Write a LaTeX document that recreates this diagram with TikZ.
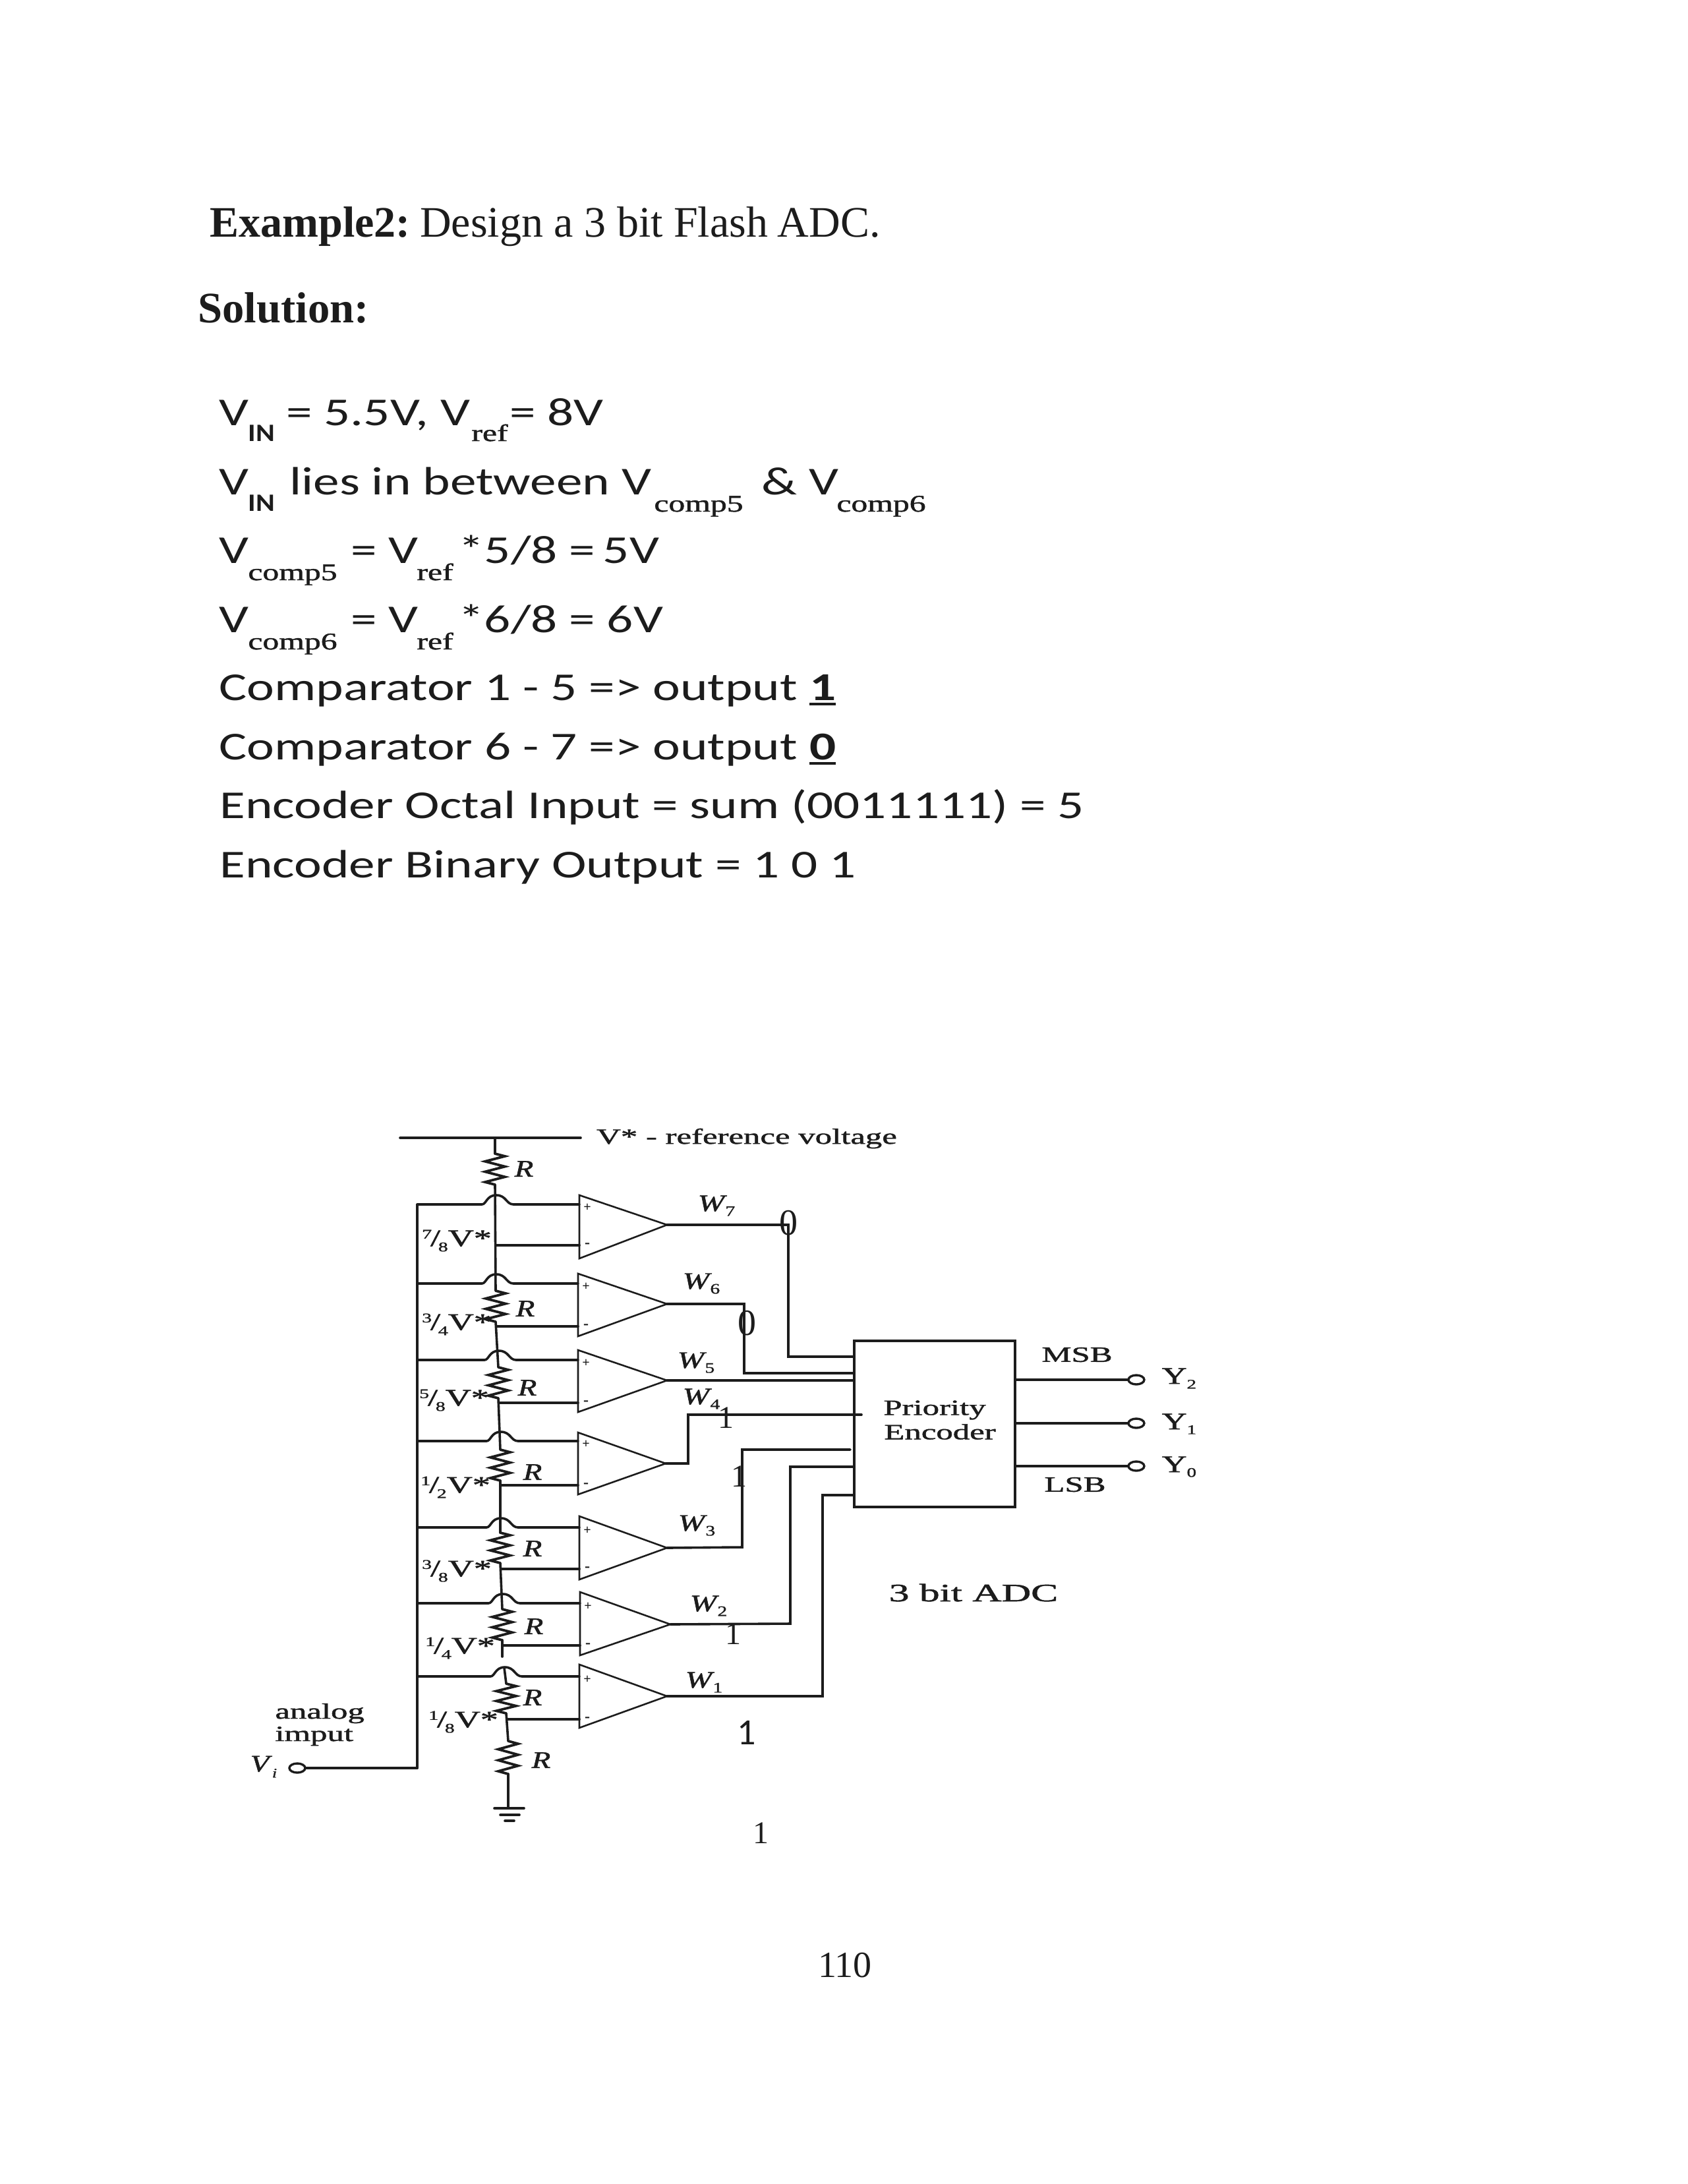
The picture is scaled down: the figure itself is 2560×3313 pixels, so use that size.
\documentclass[tikz,border=0pt]{standalone}
\usepackage{graphicx}
\usepackage{fontspec}
\setmainfont{Liberation Serif}
\newfontfamily\carl{Carlito}
\newfontfamily\heavy[FakeBold=1.2,ItalicFont=Liberation Serif Italic,ItalicFeatures={FakeBold=1.2}]{Liberation Serif}
\usetikzlibrary{calc,shapes.geometric}
\definecolor{ink}{HTML}{1C1C1C}
\newcommand{\sa}[1]{\scalebox{1.32}[1]{\fontsize{30}{36}\selectfont\carl #1}}
\newcommand{\sbsans}[1]{\scalebox{1.15}[1]{\fontsize{19}{22}\selectfont\carl\bfseries #1}}
\newcommand{\sbserif}[1]{\scalebox{1.38}[1]{\fontsize{18}{22}\selectfont\heavy #1}}
\newcommand{\dg}[1]{\scalebox{1.54}[1]{\fontsize{16.5}{19}\selectfont\heavy #1}}
\newcommand{\frc}[2]{\scalebox{1.5}[1]{\fontsize{18}{21}\selectfont\heavy\raisebox{.32em}{\fontsize{10}{11}\selectfont #1}\kern-.04em/\kern-.06em\raisebox{-.22em}{\fontsize{10}{11}\selectfont #2}V*}}
\newcommand{\wl}[1]{\scalebox{1.35}[1]{\fontsize{18}{21}\selectfont\heavy\textit{W}\kern-.05em\raisebox{-.2em}{\fontsize{11}{13}\selectfont #1}}}
\newcommand{\yl}[1]{\scalebox{1.45}[1]{\fontsize{18}{21}\selectfont\heavy Y\raisebox{-.2em}{\fontsize{10}{11}\selectfont #1}}}
\newcommand{\rl}{\scalebox{1.3}[1]{\fontsize{18}{21}\selectfont\heavy\textit{R}}}
\newcommand{\udl}[1]{\rlap{\rule[-.13em]{.507em}{.07em}}\textbf{#1}}
\tikzset{
  wire/.style={draw=ink,line width=1.8pt,line cap=round,line join=miter},
  thin wire/.style={draw=ink,line width=1.3pt,line join=miter},
  txt/.style={anchor=base west,inner sep=0pt,text=ink},
  lab/.style={inner sep=0pt,text=ink},
  term/.style={draw=ink,line width=1.7pt,ellipse,minimum width=12pt,minimum height=7pt,inner sep=0pt},
  enc/.style={draw=ink,line width=1.8pt,rectangle,inner sep=0pt,minimum width=122pt,minimum height=126pt}
}
% \resist{x}{top}{bottom}
\newcommand{\resist}[3]{%
  \pgfmathsetmacro{\sx}{(#3-#2)/12}%
  \draw[wire,line width=1.9pt] (#1,#2) -- ({#1+15},{#2+\sx}) -- ({#1-15},{#2+3*\sx}) -- ({#1+15},{#2+5*\sx}) -- ({#1-15},{#2+7*\sx}) -- ({#1+15},{#2+9*\sx}) -- ({#1-15},{#2+11*\sx}) -- (#1,#3);}
% \cmp{n}{left}{top}{bot}{tipx}{tipy}{plus}{minus}
\newcommand{\cmp}[8]{%
  \coordinate (c#1t) at (#2,#3);
  \coordinate (c#1b) at (#2,#4);
  \coordinate (c#1o) at (#5,#6);
  \coordinate (c#1p) at (#2,#7);
  \coordinate (c#1m) at (#2,#8);
  \draw[thin wire] (c#1t) -- (c#1o) -- (c#1b) -- cycle;
  \node[lab] (pl#1) at ($(c#1p)+(12,5)$) {\fontsize{10}{10}\selectfont\bfseries +};
  \node[lab] (mi#1) at ($(c#1m)+(12,0)$) {\fontsize{12}{12}\selectfont\bfseries -};}
% \hop{n}{ladderx}
\newcommand{\hop}[2]{%
  \coordinate (r#1) at (rail |- c#1p);
  \path let \p1=(c#1p) in coordinate (h#1) at (#2,\y1);
  \draw[wire] (r#1) -- ($(h#1)+(-21,0)$) .. controls ($(h#1)+(-14,0)$) and ($(h#1)+(-14,-14)$) .. ($(h#1)+(1,-14)$) .. controls ($(h#1)+(16,-14)$) and ($(h#1)+(16,0)$) .. ($(h#1)+(27,0)$) -- (c#1p);}
% \tap{n}{ladderx}
\newcommand{\tap}[2]{%
  \path let \p1=(c#1m) in coordinate (t#1) at (#2,\y1);
  \draw[wire] (t#1) -- (c#1m);}
\begin{document}
\begin{tikzpicture}[x=0.5pt,y=-0.5pt]
\useasboundingbox (0,0) rectangle (2560,3313);
\fill[white] (0,0) rectangle (2560,3313);
% --- heading
\node[txt] (ex) at (318,359) {\fontsize{33}{40}\selectfont\textbf{Example2:}\kern-.03em\ Design a 3 bit Flash\kern-.03em\ ADC.};
\node[txt] (sol) at (300,489) {\scalebox{1.01}[1]{\fontsize{33}{40}\selectfont\textbf{Solution:}}};
% --- calculation lines
\node[txt] (a1) at (332,645) {\sa{V}};
\node[txt] (a2) at (376,669) {\sbsans{IN}};
\node[txt] (a3) at (434,645) {\sa{= 5.5V,}};
\node[txt] (a4) at (668,645) {\sa{V}};
\node[txt] (a5) at (715,669) {\sbserif{ref}};
\node[txt] (a6) at (773,645) {\sa{= 8V}};
\node[txt] (b1) at (332,750) {\sa{V}};
\node[txt] (b2) at (376,775) {\sbsans{IN}};
\node[txt] (b3) at (439,750) {\sa{lies in between V}};
\node[txt] (b4) at (992,776) {\sbserif{comp5}};
\node[txt] (b5) at (1155,750) {\sa{\&\ V}};
\node[txt] (b6) at (1269,776) {\sbserif{comp6}};
\node[txt] (c1) at (332,854) {\sa{V}};
\node[txt] (c2) at (376,880) {\sbserif{comp5}};
\node[txt] (c3) at (532,854) {\sa{= V}};
\node[txt] (c4) at (632,880) {\sbserif{ref}};
\node[txt] (c5) at (695,854) {\sa{*5/8 =\kern.15em 5V}};
\node[txt] (d1) at (332,959) {\sa{V}};
\node[txt] (d2) at (376,985) {\sbserif{comp6}};
\node[txt] (d3) at (532,959) {\sa{= V}};
\node[txt] (d4) at (632,985) {\sbserif{ref}};
\node[txt] (d5) at (695,959) {\sa{*6/8 = 6V}};
\node[txt] (e1) at (332,1062) {\sa{Comparator 1 - 5 => output \udl{1}}};
\node[txt] (f1) at (332,1152) {\sa{Comparator 6 - 7 => output \udl{0}}};
\node[txt] (g1) at (333,1241) {\sa{Encoder Octal Input = sum (0011111) = 5}};
\node[txt] (h1) at (333,1331) {\sa{Encoder Binary Output = 1 0 1}};
% --- comparators
\cmp{7}{879}{1813}{1909}{1012}{1858}{1827}{1889}
\cmp{6}{877}{1932}{2027}{1012}{1978}{1947}{2012}
\cmp{5}{877}{2048}{2142}{1012}{2094}{2063}{2128}
\cmp{4}{877}{2173}{2267}{1010}{2220}{2186}{2253}
\cmp{3}{879}{2300}{2396}{1012}{2348}{2317}{2380}
\cmp{2}{880}{2415}{2511}{1017}{2464}{2432}{2496}
\cmp{1}{879}{2525}{2621}{1012}{2573}{2543}{2608}
% --- reference bus and input rail
\coordinate (busL) at (607,1726);
\coordinate (busR) at (881,1726);
\coordinate (busT) at (751,1726);
\coordinate (rail) at (633,1827);
\coordinate (railB) at (633,2682);
\draw[wire] (busL) -- (busR);
\draw[wire] (rail) -- (railB);
\node[term] (vi) at (451,2682) {};
\draw[wire] (vi) -- (railB);
% --- ladder
\draw[wire] (busT) -- (751,1750);
\resist{751}{1750}{1797}
\draw[wire] (751,1797) -- (752,1958);
\resist{752}{1958}{2005}
\draw[wire] (752,2005) -- (756,2074);
\resist{756}{2074}{2121}
\draw[wire] (756,2121) -- (759,2199);
\resist{759}{2199}{2246}
\draw[wire] (759,2246) -- (759,2325);
\resist{759}{2325}{2371}
\draw[wire] (759,2371) -- (762,2441);
\resist{762}{2441}{2488}
\draw[wire] (762,2488) -- (762,2513);
\draw[wire] (765,2530) -- (768,2554);
\resist{768}{2554}{2599}
\draw[wire] (768,2599) -- (771,2641);
\resist{771}{2641}{2691}
\coordinate (gnd) at (771,2743);
\draw[wire] (771,2691) -- (gnd);
\draw[wire] ($(gnd)+(-21,0)$) -- ($(gnd)+(24,0)$);
\draw[wire] ($(gnd)+(-12,10)$) -- ($(gnd)+(17,10)$);
\draw[wire] ($(gnd)+(-5,19)$) -- ($(gnd)+(9,19)$);
% --- hops and taps
\hop{7}{752}\hop{6}{752}\hop{5}{756}\hop{4}{759}\hop{3}{759}\hop{2}{762}\hop{1}{765}
\tap{7}{752}\tap{6}{753}\tap{5}{757}\tap{4}{760}\tap{3}{760}\tap{2}{763}\tap{1}{769}
% --- encoder and outputs
\node[enc] (encoder) at (1418,2160) {};
\node[lab] (pri) at (1418,2139) {\dg{Priority}};
\node[lab] (enct) at (1426,2172) {\dg{Encoder}};
\coordinate (i7) at (encoder.west |- 0,2058);
\coordinate (i6) at (encoder.west |- 0,2083);
\coordinate (i5) at (encoder.west |- 0,2093);
\coordinate (i4) at (1307,2146);
\coordinate (i3) at (1290,2199);
\coordinate (i2) at (encoder.west |- 0,2225);
\coordinate (i1) at (encoder.west |- 0,2268);
\coordinate (v7) at (1196,1858);
\coordinate (v6) at (1129,1978);
\coordinate (v4) at (1044,2220);
\coordinate (v3) at (1126,2347);
\coordinate (v2) at (1199,2463);
\coordinate (v1) at (1248,2573);
\draw[wire] (c7o) -- (v7) |- (i7);
\draw[wire] (c6o) -- (v6) |- (i6);
\draw[wire] (c5o) -- (c5o -| i5);
\draw[wire] (c4o) -- (v4) |- (i4);
\draw[wire] (c3o) -- (v3) |- (i3);
\draw[wire] (c2o) -- (v2) |- (i2);
\draw[wire] (c1o) -- (v1) |- (i1);
\node[term] (y2) at (1724,2093) {};
\node[term] (y1) at (1724,2159) {};
\node[term] (y0) at (1724,2224) {};
\draw[wire] (encoder.east |- y2) -- (y2);
\draw[wire] (encoder.east |- y1) -- (y1);
\draw[wire] (encoder.east |- y0) -- (y0);
% --- labels
\node[lab] (vref) at (1133,1727) {\dg{V* - reference voltage}};
\node[lab] (f78) at (693,1882) {\frc{7}{8}};
\node[lab] (f34) at (693,2009) {\frc{3}{4}};
\node[lab] (f58) at (689,2124) {\frc{5}{8}};
\node[lab] (f12) at (691,2256) {\frc{1}{2}};
\node[lab] (f38) at (693,2383) {\frc{3}{8}};
\node[lab] (f14) at (698,2500) {\frc{1}{4}};
\node[lab] (f18) at (703,2612) {\frc{1}{8}};
\node[lab] (ra) at (795,1773) {\rl};
\node[lab] (rb) at (797,1985) {\rl};
\node[lab] (rc) at (800,2105) {\rl};
\node[lab] (rd) at (808,2233) {\rl};
\node[lab] (re) at (808,2349) {\rl};
\node[lab] (rf) at (810,2467) {\rl};
\node[lab] (rg) at (808,2575) {\rl};
\node[lab] (rh) at (821,2670) {\rl};
\node[lab] (w7) at (1087,1829) {\wl{7}};
\node[lab] (w6) at (1064,1947) {\wl{6}};
\node[lab] (w5) at (1056,2067) {\wl{5}};
\node[lab] (w4) at (1064,2122) {\wl{4}};
\node[lab] (w3) at (1057,2314) {\wl{3}};
\node[lab] (w2) at (1075,2436) {\wl{2}};
\node[lab] (w1) at (1068,2552) {\wl{1}};
\node[txt] (an) at (417,2607) {\dg{analog}};
\node[txt] (im) at (417,2641) {\dg{imput}};
\node[lab] (vil) at (400,2680) {\scalebox{1.3}[1]{\fontsize{18}{21}\selectfont\heavy\textit{V}\raisebox{-.25em}{\fontsize{10}{12}\selectfont\textit{i}}}};
\node[lab] (msb) at (1634,2055) {\dg{MSB}};
\node[lab] (lsb) at (1631,2252) {\dg{LSB}};
\node[lab] (yt2) at (1789,2091) {\yl{2}};
\node[lab] (yt1) at (1789,2160) {\yl{1}};
\node[lab] (yt0) at (1789,2225) {\yl{0}};
\node[lab] (adc) at (1477,2416) {\scalebox{1.62}[1]{\fontsize{19}{22}\selectfont\heavy 3 bit ADC}};
% --- logic values written over the wires
\node[lab] (z7) at (1196,1855) {\fontsize{28}{30}\selectfont 0};
\node[lab] (z6) at (1133,2007) {\fontsize{28}{30}\selectfont 0};
\node[lab] (o4) at (1101,2151) {\fontsize{24}{26}\selectfont 1};
\node[lab] (o3) at (1121,2240) {\fontsize{24}{26}\selectfont 1};
\node[lab] (o2) at (1112,2479) {\fontsize{24}{26}\selectfont 1};
\node[lab] (o1) at (1133,2628) {\fontsize{28}{30}\selectfont\carl 1};
\node[lab] (o0) at (1154,2781) {\fontsize{24}{26}\selectfont 1};
\node[lab] (pg) at (1282,2981) {\fontsize{28}{30}\selectfont 110};
\end{tikzpicture}
\end{document}
